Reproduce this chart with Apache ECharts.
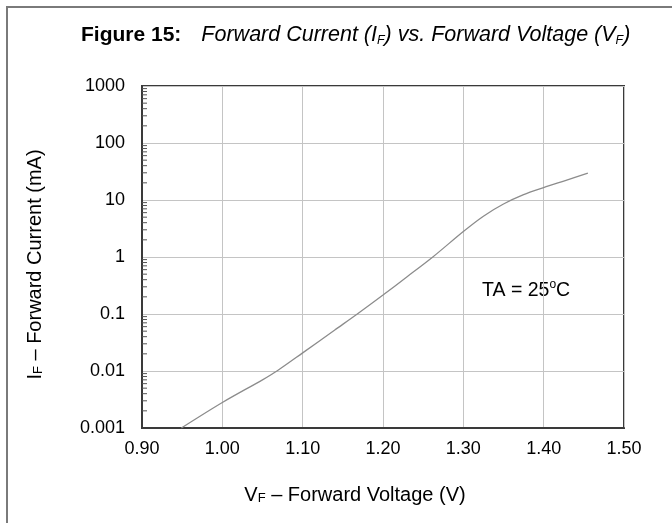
<!DOCTYPE html>
<html>
<head>
<meta charset="utf-8">
<script src="https://cdn.jsdelivr.net/npm/echarts@6/dist/echarts.min.js"></script>
<style>
html,body{margin:0;padding:0;background:#fff;}
#chart{width:672px;height:523px;}
</style>
</head>
<body>
<div id="chart"></div>
<script>
// Forward voltage (V)
const forwardVoltage = [0.949, 1.00, 1.05, 1.068, 1.10, 1.14, 1.168, 1.20, 1.23, 1.262, 1.30, 1.325, 1.35, 1.375, 1.40, 1.425, 1.455];
// Forward current (mA)
const forwardCurrent = [0.001, 0.0028, 0.0070, 0.01, 0.0208, 0.0525, 0.1, 0.215, 0.45, 1.0, 2.8, 5.2, 8.5, 12.4, 16.5, 21.5, 29.5];
const xTickLabels = ['0.90','1.00','1.10','1.20','1.30','1.40','1.50'];
const yTickLabels = ['0.001','0.01','0.1','1','10','100','1000'];
const yDecades = [0.001, 0.01, 0.1, 1, 10, 100];
const minorMultipliers = [2,3,4,5,6,7,8,9];

const FONT = '"Liberation Sans", Arial, sans-serif';
const seriesData = forwardVoltage.map((v, i) => [v, forwardCurrent[i]]);
const minorTicks = [];
yDecades.forEach(d => minorMultipliers.forEach(m => minorTicks.push([m * d])));

const nameRich = {
  n: {fontFamily: FONT, fontSize: 20, color: '#000', lineHeight: 24, verticalAlign: 'bottom'},
  sub: {fontFamily: FONT, fontSize: 13, color: '#000', lineHeight: 24, verticalAlign: 'bottom'}
};

const chart = echarts.init(document.getElementById('chart'), null, {renderer: 'canvas'});
chart.setOption({
  backgroundColor: '#ffffff',
  animation: false,
  title: {
    left: 81, top: 23, padding: 0,
    text: '{b|Figure 15:}{sp| }{i|Forward Current (I}{sub|F}{i|) vs. Forward Voltage (V}{sub|F}{i|)}',
    textStyle: {
      fontWeight: 'normal',
      rich: {
        b: {fontFamily: FONT, fontWeight: 'bold', fontSize: 21, color: '#000', lineHeight: 24},
        sp: {fontFamily: FONT, fontSize: 21, lineHeight: 24, width: 20},
        i: {fontFamily: FONT, fontWeight: 'normal', fontStyle: 'italic', fontSize: 21.5, color: '#000', lineHeight: 24},
        sub: {fontFamily: FONT, fontWeight: 'normal', fontStyle: 'italic', fontSize: 12.5, color: '#000', lineHeight: 24, verticalAlign: 'bottom'}
      }
    }
  },
  grid: {left: 142, top: 86, right: 48, bottom: 95, show: true, borderColor: '#3a3a3a', borderWidth: 2, backgroundColor: 'transparent'},
  xAxis: {
    type: 'value', min: 0.9, max: 1.5, interval: 0.1,
    name: '{n|V}{sub|F}{n| – Forward Voltage (V)}',
    nameLocation: 'middle', nameGap: 53,
    nameTextStyle: {rich: nameRich, padding: [0, 56, 0, 0]},
    axisLine: {show: true, lineStyle: {color: '#3a3a3a', width: 2}},
    axisTick: {show: false},
    axisLabel: {
      margin: 12, fontFamily: FONT, fontSize: 18, color: '#000',
      formatter: v => xTickLabels[Math.round((v - 0.9) / 0.1)]
    },
    splitLine: {show: true, lineStyle: {color: '#c4c4c4', width: 1}}
  },
  yAxis: {
    type: 'log', logBase: 10, min: 0.001, max: 1000,
    name: '{n|I}{sub|F}{n| – Forward Current (mA)}',
    nameLocation: 'middle', nameGap: 97, nameRotate: 90,
    nameTextStyle: {rich: nameRich, padding: [0, 15, 0, 0]},
    axisLine: {show: true, lineStyle: {color: '#3a3a3a', width: 2}},
    axisTick: {show: false},
    axisLabel: {
      margin: 17, fontFamily: FONT, fontSize: 18, color: '#000',
      formatter: v => yTickLabels[Math.round(Math.log10(v)) + 3]
    },
    splitLine: {show: true, lineStyle: {color: '#c4c4c4', width: 1}}
  },
  graphic: [
    {type: 'line', shape: {x1: 6, y1: 7, x2: 672, y2: 7}, style: {stroke: '#7a7a7a', lineWidth: 2}},
    {type: 'line', shape: {x1: 7, y1: 7, x2: 7, y2: 523}, style: {stroke: '#7a7a7a', lineWidth: 2}},
    {type: 'text', left: 482, top: 279, style: {
      text: '{n|TA = 25}{sup|o}{n|C}',
      rich: {
        n: {fontFamily: FONT, fontSize: 19.5, fill: '#000', lineHeight: 22, verticalAlign: 'bottom'},
        sup: {fontFamily: FONT, fontSize: 12, fill: '#000', lineHeight: 22, verticalAlign: 'top'}
      }
    }}
  ],
  series: [
    {
      type: 'custom',
      data: minorTicks,
      silent: true,
      renderItem: function (params, api) {
        const p = api.coord([0.9, api.value(0)]);
        return {type: 'line', shape: {x1: p[0], y1: p[1], x2: p[0] + 5, y2: p[1]}, style: {stroke: '#555', lineWidth: 1}};
      },
      encode: {y: 0},
      z: 3
    },
    {
      type: 'line',
      data: seriesData,
      showSymbol: false,
      smooth: 0.3,
      lineStyle: {color: '#8c8c8c', width: 1.3},
      z: 2
    }
  ]
});
</script>
</body>
</html>
